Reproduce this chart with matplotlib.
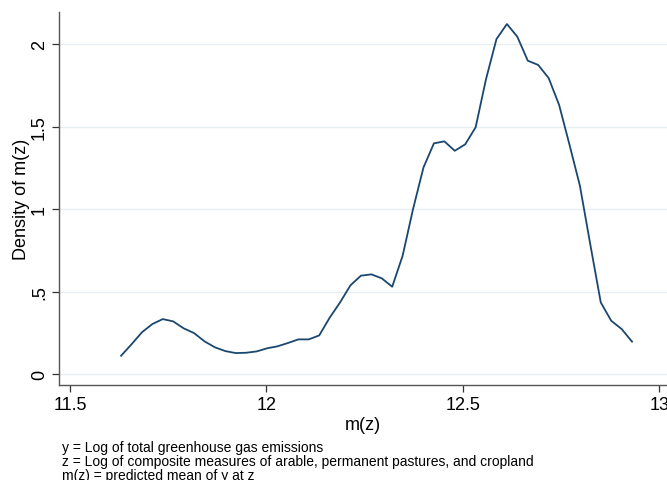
import numpy as np
import matplotlib.pyplot as plt

plt.rcParams['font.family'] = ['Liberation Sans', 'DejaVu Sans']

# kernel density of predicted mean, 50 evaluation points
x_start, x_end = 11.630, 12.931
density = [0.111, 0.180, 0.253, 0.303, 0.333, 0.319, 0.277, 0.248, 0.198, 0.162,
           0.139, 0.127, 0.129, 0.137, 0.156, 0.168, 0.188, 0.210, 0.210, 0.234,
           0.341, 0.434, 0.538, 0.596, 0.604, 0.580, 0.529, 0.717, 1.000, 1.252,
           1.398, 1.410, 1.353, 1.392, 1.495, 1.788, 2.030, 2.121, 2.044, 1.899,
           1.873, 1.794, 1.632, 1.390, 1.141, 0.784, 0.434, 0.323, 0.273, 0.196]
mz = np.linspace(x_start, x_end, len(density))

xticks = [11.5, 12, 12.5, 13]
xticklabels = ['11.5', '12', '12.5', '13']
yticks = [0, 0.5, 1, 1.5, 2]
yticklabels = ['0', '.5', '1', '1.5', '2']
notes = ['y = Log of total greenhouse gas emissions',
         'z = Log of composite measures of arable, permanent pastures, and cropland',
         'm(z) = predicted mean of y at z']

fig = plt.figure(figsize=(6.67, 4.81), dpi=100)
ax = fig.add_axes([0.0885, 0.198, 0.9115, 0.775])

ax.plot(mz, density, color='#1a476f', linewidth=1.3)

ax.set_xlim(11.472, 13.02)
ax.set_ylim(-0.065, 2.194)
ax.set_xticks(xticks)
ax.set_xticklabels(xticklabels, fontsize=13)
ax.set_yticks(yticks)
ax.set_yticklabels(yticklabels, fontsize=13, rotation=90, va='center')
ax.tick_params(direction='out', length=5, width=0.9, color='#333333', pad=3)

ax.grid(axis='y', color='#e6eef0', linewidth=1.0)
ax.set_axisbelow(True)
for side in ['top', 'right']:
    ax.spines[side].set_visible(False)
for side in ['left', 'bottom']:
    ax.spines[side].set_color('#555555')
    ax.spines[side].set_linewidth(1.0)

ax.set_xlabel('m(z)', fontsize=13, labelpad=2)
ax.set_ylabel('Density of m(z)', fontsize=13, labelpad=1)

for i, line in enumerate(notes):
    fig.text(0.093, 1 - (448 + 14.2 * i) / 481, line, fontsize=10, va='center')

fig.savefig('out.png', dpi=100)
